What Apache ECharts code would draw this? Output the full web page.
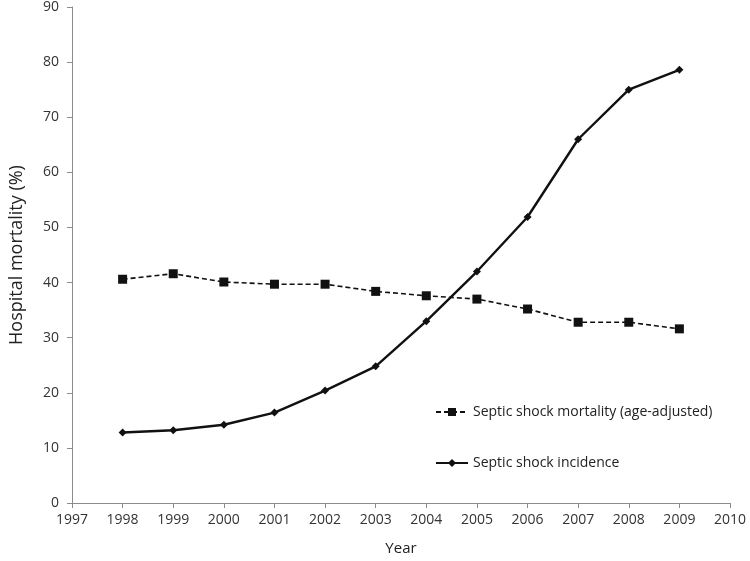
<!DOCTYPE html>
<html>
<head>
<meta charset="utf-8">
<script src="https://cdn.jsdelivr.net/npm/echarts@6/dist/echarts.min.js"></script>
<style>html,body{margin:0;padding:0;background:#fff;overflow:hidden}#c{width:750px;height:561px}</style>
</head>
<body>
<div id="c"></div>
<script>
const years = [1998, 1999, 2000, 2001, 2002, 2003, 2004, 2005, 2006, 2007, 2008, 2009];
const mortality = [40.6, 41.6, 40.1, 39.7, 39.7, 38.4, 37.6, 37.0, 35.2, 32.8, 32.8, 31.6];
const incidence = [12.8, 13.2, 14.2, 16.4, 20.4, 24.8, 33.0, 42.0, 51.9, 66.0, 75.0, 78.6];
const seriesNames = ['Septic shock mortality (age-adjusted)', 'Septic shock incidence'];

const font = '"Open Sans", sans-serif';
const chart = echarts.init(document.getElementById('c'));
chart.setOption({
  animation: false,
  backgroundColor: '#fff',
  grid: { left: 63, right: 20, top: 7, bottom: 45 },
  legend: {
    orient: 'vertical',
    left: 430, top: 400,
    itemGap: 37, itemWidth: 32, itemHeight: 10,
    textStyle: { fontFamily: font, fontSize: 14, color: '#222' },
    data: seriesNames
  },
  xAxis: {
    type: 'value', min: 1997, max: 2010, interval: 1,
    name: 'Year', nameLocation: 'middle', nameGap: 38,
    nameTextStyle: { fontFamily: font, fontSize: 15, color: '#222' },
    axisLine: { lineStyle: { color: '#8c8c8c' } },
    axisTick: { show: true, length: 5, lineStyle: { color: '#8c8c8c' } },
    axisLabel: { fontFamily: font, fontSize: 14, color: '#333', margin: 10, formatter: v => String(v) },
    splitLine: { show: false }
  },
  yAxis: {
    type: 'value', min: 0, max: 90, interval: 10,
    name: 'Hospital mortality (%)', nameLocation: 'middle', nameGap: 46,
    nameTextStyle: { fontFamily: font, fontSize: 18, color: '#222' },
    axisLine: { show: true, lineStyle: { color: '#8c8c8c' } },
    axisTick: { show: true, length: 5, lineStyle: { color: '#8c8c8c' } },
    axisLabel: { fontFamily: font, fontSize: 14, color: '#333', margin: 13 },
    splitLine: { show: false }
  },
  series: [
    {
      name: seriesNames[0], type: 'line',
      data: years.map((y, i) => [y, mortality[i]]),
      symbol: 'rect', symbolSize: 9,
      lineStyle: { color: '#111', width: 1.6, type: [5, 3] },
      itemStyle: { color: '#111' }
    },
    {
      name: seriesNames[1], type: 'line',
      data: years.map((y, i) => [y, incidence[i]]),
      symbol: 'diamond', symbolSize: 8,
      lineStyle: { color: '#111', width: 2.4 },
      itemStyle: { color: '#111' }
    }
  ]
});
</script>
</body>
</html>
